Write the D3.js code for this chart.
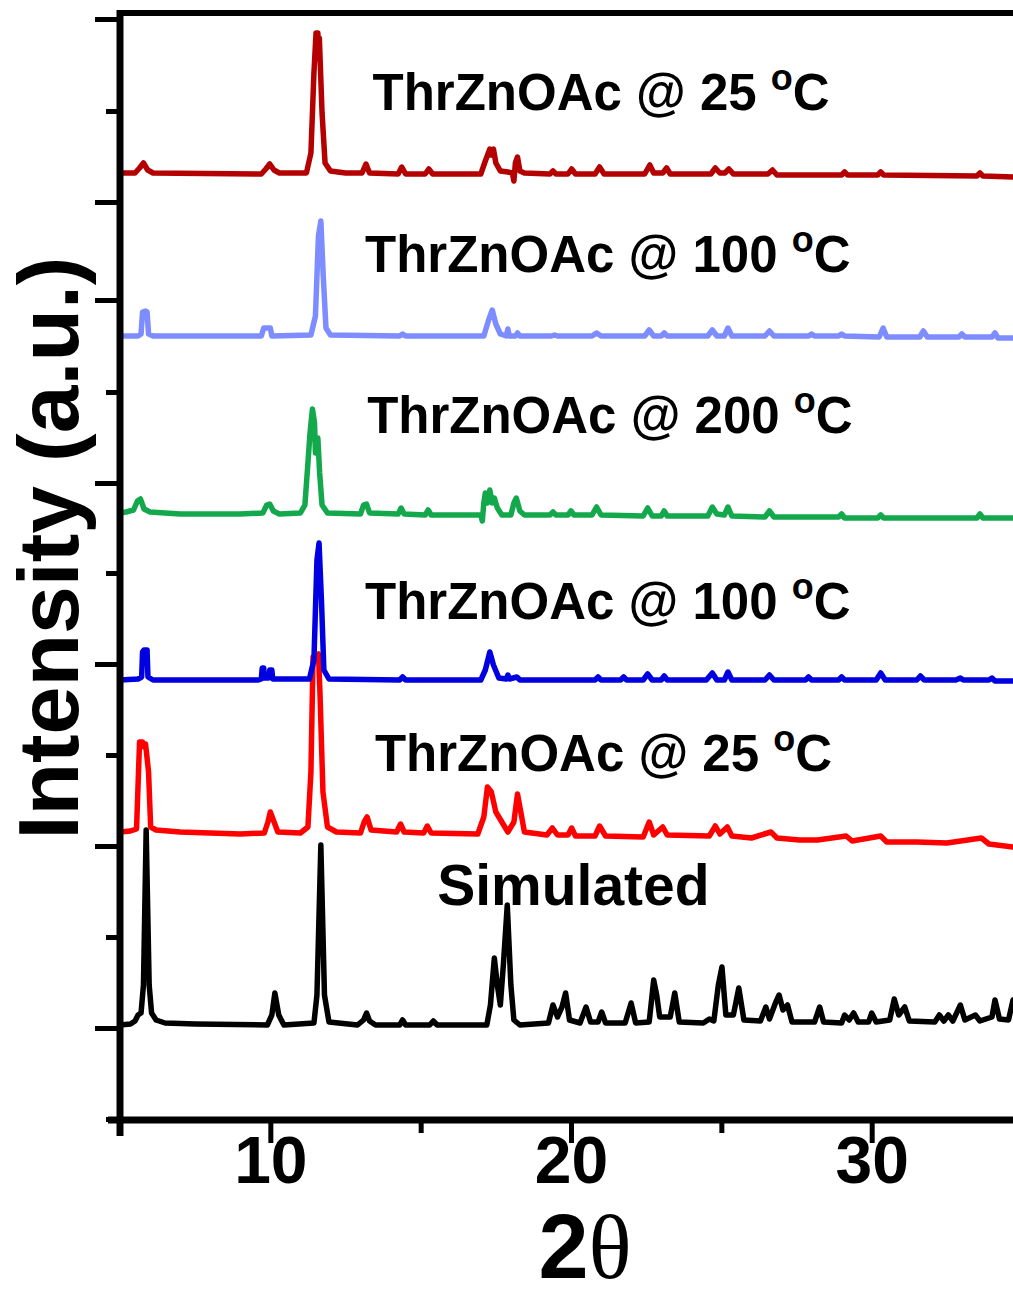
<!DOCTYPE html>
<html>
<head>
<meta charset="utf-8">
<script src="https://cdn.jsdelivr.net/npm/d3@7"></script>
<style>
    body { margin: 0; background: #ffffff; }
    #graph svg { display: block; }
</style>
</head>
<body>
<div id="graph"></div>
<script>

// The data...  2theta / intensity pairs, intensity relative to each baseline
var simulated = [
    [5.0, 0], [5.35, 1], [5.5, 4], [5.6, 10], [5.7, 12], [5.78, 40], [5.87, 195], [5.97, 40], [6.05, 12],
    [6.2, 5], [6.5, 2], [7.5, 1], [9.9, 0], [10.05, 10], [10.15, 32], [10.28, 10], [10.45, 0], [11.45, 2],
    [11.55, 30], [11.68, 180], [11.8, 30], [11.95, 3], [12.9, 0], [13.1, 5], [13.2, 12], [13.3, 4], [13.5, 0],
    [14.3, 0], [14.4, 5], [14.5, 0], [15.3, 0], [15.42, 4], [15.55, 0], [17.2, 0], [17.32, 20], [17.45, 67],
    [17.55, 40], [17.65, 20], [17.75, 60], [17.88, 120], [18.0, 40], [18.1, 5], [18.3, 0], [19.25, 2],
    [19.4, 20], [19.55, 8], [19.7, 18], [19.82, 32], [19.95, 5], [20.3, 2], [20.5, 18], [20.65, 3], [20.9, 3],
    [21.02, 13], [21.15, 2], [21.8, 2], [22.0, 22], [22.15, 2], [22.6, 3], [22.75, 45], [22.85, 30],
    [22.95, 8], [23.3, 8], [23.45, 32], [23.6, 3], [24.4, 2], [24.6, 6], [24.75, 4], [24.9, 40], [25.02, 58],
    [25.15, 10], [25.4, 10], [25.58, 37], [25.75, 5], [26.3, 4], [26.48, 18], [26.6, 6], [26.8, 22],
    [26.92, 30], [27.05, 15], [27.2, 20], [27.35, 3], [28.1, 3], [28.27, 18], [28.4, 3], [29.0, 2], [29.1, 10],
    [29.25, 5], [29.4, 12], [29.55, 3], [29.9, 3], [30.0, 12], [30.15, 3], [30.6, 5], [30.75, 26], [30.9, 10],
    [31.1, 18], [31.25, 4], [32.1, 3], [32.25, 10], [32.4, 4], [32.55, 10], [32.7, 4], [32.95, 20], [33.1, 5],
    [33.45, 10], [33.6, 4], [34.0, 8], [34.1, 25], [34.25, 6], [34.55, 5], [34.7, 25]
];

var exp25a = [
    [5.0, 0], [5.35, 1], [5.55, 3], [5.65, 90], [5.75, 90], [5.8, 85], [5.85, 88], [5.95, 60], [6.02, 5],
    [6.2, 2], [7.0, 0], [8.0, -1], [9.0, -2], [9.8, -1], [9.92, 10], [10.0, 20], [10.1, 12], [10.25, 0],
    [11.0, -1], [11.25, 5], [11.35, 60], [11.42, 175], [11.6, 178], [11.65, 140], [11.75, 40], [11.9, 5],
    [12.2, 0], [13.0, -1], [13.12, 10], [13.22, 15], [13.35, 2], [14.2, 0], [14.33, 8], [14.45, 0],
    [15.1, -1], [15.22, 6], [15.35, -1], [16.9, -2], [17.1, 15], [17.22, 45], [17.35, 40], [17.5, 20],
    [17.7, 10], [17.9, 0], [18.1, 10], [18.22, 38], [18.33, 20], [18.45, 0], [19.2, -3], [19.38, 4],
    [19.55, -3], [19.9, -3], [20.02, 4], [20.15, -4], [20.8, -4], [20.95, 6], [21.15, -4], [22.4, -5],
    [22.6, 10], [22.75, -3], [23.05, 5], [23.2, -3], [24.6, -4], [24.8, 6], [24.95, -2], [25.2, 5],
    [25.35, -4], [26.0, -6], [26.65, 0], [26.85, -6], [27.6, -8], [28.2, -8], [29.15, -4], [29.35, -9],
    [30.3, -4], [30.5, -10], [31.5, -10], [32.5, -11], [33.65, -6], [33.9, -12], [34.7, -15]
];

var exp100a = [
    [5.0, 0], [5.6, 1], [5.72, 3], [5.75, 28], [5.8, 30], [5.9, 30], [5.93, 3], [6.1, 0], [9.6, 0], [9.7, 1],
    [9.73, 12], [9.78, 12], [9.8, 2], [9.95, 2], [9.98, 10], [10.05, 10], [10.08, 1], [11.3, 1], [11.45, 20],
    [11.55, 120], [11.62, 137], [11.7, 80], [11.78, 10], [11.95, 1], [14.3, 0], [14.4, 3], [14.5, 0],
    [17.0, 0], [17.15, 10], [17.3, 28], [17.42, 15], [17.6, 2], [17.85, 1], [17.9, 5], [17.95, 1], [18.2, 3],
    [18.3, 0], [20.8, 0], [20.9, 3], [21.0, 0], [21.65, 0], [21.75, 3], [21.85, 0], [22.4, 0], [22.55, 6],
    [22.7, 0], [23.0, 0], [23.1, 4], [23.2, 0], [24.5, 0], [24.7, 7], [24.85, 0], [25.1, 0], [25.22, 8],
    [25.35, 0], [26.45, 0], [26.6, 5], [26.75, 0], [27.8, 0], [27.9, 3], [28.0, 0], [28.9, 0], [29.0, 3],
    [29.1, 0], [30.15, 0], [30.3, 7], [30.45, 0], [31.5, 0], [31.62, 4], [31.75, 0], [32.8, 0], [32.95, 2],
    [33.05, 0], [33.9, 0], [34.0, 2], [34.1, -1], [34.7, -1]
];

var exp200 = [
    [5.0, 0], [5.2, 1], [5.45, 3], [5.58, 12], [5.68, 14], [5.8, 4], [6.0, 1], [7.0, -1], [9.0, -1],
    [9.75, 0], [9.88, 8], [9.98, 9], [10.1, 2], [10.3, -1], [11.0, 0], [11.15, 8], [11.25, 50], [11.32, 80],
    [11.4, 104], [11.47, 90], [11.5, 60], [11.58, 75], [11.64, 40], [11.72, 8], [11.9, 0], [13.0, -1],
    [13.1, 8], [13.2, 9], [13.3, 0], [14.25, -1], [14.35, 5], [14.45, -1], [15.15, -2], [15.25, 3],
    [15.35, -2], [17.0, -2], [17.05, -8], [17.1, 10], [17.15, 20], [17.22, 10], [17.3, 23], [17.38, 10],
    [17.45, 15], [17.55, 5], [17.7, -2], [18.0, -2], [18.1, 10], [18.18, 15], [18.3, 2], [18.45, -2],
    [19.3, -2], [19.4, 1], [19.5, -2], [19.9, -2], [20.0, 2], [20.1, -2], [20.7, -2], [20.85, 6], [21.0, -2],
    [22.4, -3], [22.55, 5], [22.7, -3], [23.0, -3], [23.1, 2], [23.2, -3], [24.55, -3], [24.7, 6],
    [24.85, -1], [25.1, -2], [25.22, 6], [25.35, -3], [26.45, -4], [26.6, 2], [26.75, -4], [28.9, -4],
    [29.0, -1], [29.1, -5], [30.2, -5], [30.3, -2], [30.4, -5], [33.5, -5], [33.6, -1], [33.7, -5], [34.7, -5]
];

var exp100b = [
    [5.0, 0], [5.6, 0], [5.7, 2], [5.75, 24], [5.85, 25], [5.9, 24], [5.95, 2], [6.1, 0], [9.7, 0],
    [9.78, 8], [10.0, 8], [10.05, 0], [11.35, 1], [11.5, 20], [11.6, 100], [11.68, 115], [11.76, 60],
    [11.85, 8], [12.0, 1], [14.3, 0], [14.4, 2], [14.5, 0], [17.1, 0], [17.25, 15], [17.38, 26], [17.5, 12],
    [17.65, 2], [17.85, 0], [17.9, 7], [17.95, 0], [18.15, 0], [18.22, 3], [18.3, 0], [19.35, 0], [19.45, 1],
    [19.55, 0], [20.7, 0], [20.85, 3], [21.0, 0], [22.45, 0], [22.6, 6], [22.75, 0], [23.0, 0], [23.1, 3],
    [23.2, 0], [24.55, 0], [24.7, 6], [24.85, 0], [25.1, 0], [25.22, 8], [25.35, 0], [26.45, 0], [26.6, 5],
    [26.75, 0], [27.9, 0], [28.0, 2], [28.1, 0], [28.9, 0], [29.0, 2], [29.1, 0], [30.25, -1], [30.38, 8],
    [30.5, -1], [31.6, -1], [31.72, 5], [31.85, -1], [32.9, -1], [33.0, 2], [33.1, -1], [34.0, -1], [34.1, 3],
    [34.2, -2], [34.7, -2]
];

var exp25b = [
    [5.0, 0], [5.5, 0], [5.65, 5], [5.78, 10], [5.92, 3], [6.1, 0], [9.7, -1], [9.85, 4], [9.98, 9],
    [10.12, 3], [10.3, 0], [11.2, 0], [11.35, 20], [11.45, 100], [11.52, 140], [11.58, 140], [11.6, 115],
    [11.63, 135], [11.72, 60], [11.82, 10], [12.0, 2], [12.5, 0], [13.05, 0], [13.18, 9], [13.3, 0],
    [14.25, -1], [14.37, 6], [14.5, -1], [15.15, -1], [15.27, 4], [15.4, -1], [17.0, -1], [17.15, 12],
    [17.3, 24], [17.35, 18], [17.42, 24], [17.5, 10], [17.65, 2], [17.9, 1], [18.05, 0], [18.1, -8],
    [18.15, 10], [18.22, 16], [18.3, 2], [18.45, 0], [19.3, -1], [19.4, 2], [19.5, -1], [19.9, -1],
    [20.02, 4], [20.15, -1], [20.8, -1], [20.95, 6], [21.1, -1], [22.45, -1], [22.62, 8], [22.75, 0],
    [23.05, 0], [23.18, 5], [23.3, -1], [24.65, -1], [24.8, 5], [24.95, 0], [25.12, 0], [25.25, 4],
    [25.4, -1], [26.55, -1], [26.7, 3], [26.85, -2], [29.0, -2], [29.1, 1], [29.2, -2], [30.2, -2],
    [30.3, 1], [30.4, -2], [33.5, -3], [33.6, 0], [33.7, -3], [34.7, -4]
];

// stacking order, bottom to top
var patterns     = [ simulated, exp25a, exp100a, exp200, exp100b, exp25b ];
var offsets      = [ 94, 287, 439, 606, 783, 946 ];
var temperatures = [ null, '25', '100', '200', '100', '25' ];
var sampleName   = 'ThrZnOAc @ ';
var simLabel     = 'Simulated';

var xMajorTicks = [ 10, 20, 30 ];
var xMinorTicks = [ 5, 15, 25 ];
var yMajorTicks = [ 91, 273, 455, 636, 819, 917, 1100 ];
var yMinorTicks = [ 0, 182, 364, 546, 727, 1008 ];


function D3App ()
{
    var width  = 1013;
    var height = 1297;

    var colours = [ '#000000', '#ff0000', '#0000e0', '#14a84c', '#7d8cff', '#b40000' ];

    var svg = d3.select ('#graph').append ('svg')
                .attr ('width', width)
                .attr ('height', height)
                .style ('background', '#ffffff');

    var xScale = d3.scaleLinear ()
                   .domain ([ 5, 34.7 ])
                   .range ([ 120, 1013 ]);

    var yScale = d3.scaleLinear ()
                   .domain ([ 0, 1105 ])
                   .range ([ 1119, 14 ]);

    var font = '"Liberation Sans", Arial, sans-serif';

    //
    // Patterns
    //
    var plot = svg.append ('g');

    patterns.forEach (function (pts, k)
    {
        var line = d3.line ()
                     .x (function (d) { return xScale (d[0]); })
                     .y (function (d) { return yScale (offsets[k] + d[1]); });

        plot.append ('path')
            .datum (pts)
            .attr ('d', line)
            .attr ('fill', 'none')
            .attr ('stroke', colours[k])
            .attr ('stroke-width', 5.5)
            .attr ('stroke-linejoin', 'round')
            .attr ('stroke-linecap', 'round');
    });

    //
    // Labels
    //
    var labelX    = [ 15.55, 13.48, 13.15, 13.22, 13.15, 13.4 ];
    var labelY    = [ 905, 771, 619, 433, 272, 110 ];
    var labelSize = [ 57, 51, 51, 51, 51, 51 ];

    for (var i = 0; i < patterns.length; i++)
    {
        var t = svg.append ('text')
                   .attr ('x', xScale (labelX[i]))
                   .attr ('y', labelY[i])
                   .attr ('font-family', font)
                   .attr ('font-weight', 'bold')
                   .attr ('font-size', labelSize[i] + 'px')
                   .attr ('fill', '#000000');

        if (temperatures[i] == null)
        {
            t.text (simLabel);
            continue;
        }

        t.append ('tspan').text (sampleName + temperatures[i] + ' ');
        t.append ('tspan')
         .attr ('font-size', '36px')
         .attr ('dy', -20)
         .text ('o');
        t.append ('tspan')
         .attr ('dy', 20)
         .text ('C');
    }

    //
    // Axes
    //
    var xAxisMajor = d3.axisBottom (xScale)
                       .tickValues (xMajorTicks)
                       .tickSize (23)
                       .tickSizeOuter (0)
                       .tickFormat (d3.format ('d'));

    var xAxisMinor = d3.axisBottom (xScale)
                       .tickValues (xMinorTicks)
                       .tickSize (13)
                       .tickSizeOuter (0)
                       .tickFormat ('');

    var yAxisMajor = d3.axisLeft (yScale)
                       .tickValues (yMajorTicks)
                       .tickSize (25)
                       .tickSizeOuter (0)
                       .tickFormat ('');

    var yAxisMinor = d3.axisLeft (yScale)
                       .tickValues (yMinorTicks)
                       .tickSize (14)
                       .tickSizeOuter (0)
                       .tickFormat ('');

    var gx1 = svg.append ('g').attr ('transform', 'translate(0,1120)').call (xAxisMajor);
    var gx2 = svg.append ('g').attr ('transform', 'translate(0,1120)').call (xAxisMinor);
    var gy1 = svg.append ('g').attr ('transform', 'translate(120,0)').call (yAxisMajor);
    var gy2 = svg.append ('g').attr ('transform', 'translate(120,0)').call (yAxisMinor);

    [ gx1, gx2, gy1, gy2 ].forEach (function (g)
    {
        g.select ('.domain').remove ();
        g.selectAll ('.tick line')
         .attr ('stroke', '#000000')
         .attr ('stroke-width', 5);
    });

    gx1.selectAll ('.tick text')
       .attr ('y', 63)
       .attr ('dy', 0)
       .attr ('fill', '#000000')
       .attr ('font-family', '"Liberation Sans Narrow", "Liberation Sans", Arial, sans-serif')
       .attr ('font-weight', 'bold')
       .attr ('font-size', '66px');

    // axis frame lines
    svg.append ('line')
       .attr ('x1', 108).attr ('x2', width)
       .attr ('y1', 1120).attr ('y2', 1120)
       .attr ('stroke', '#000000').attr ('stroke-width', 7);

    svg.append ('line')
       .attr ('x1', 120).attr ('x2', 120)
       .attr ('y1', 10).attr ('y2', 1136)
       .attr ('stroke', '#000000').attr ('stroke-width', 7);

    svg.append ('line')
       .attr ('x1', 117).attr ('x2', width)
       .attr ('y1', 13).attr ('y2', 13)
       .attr ('stroke', '#000000').attr ('stroke-width', 6);

    //
    // Axis titles
    //
    svg.append ('text')
       .attr ('transform', 'translate(78,548) rotate(-90)')
       .attr ('text-anchor', 'middle')
       .attr ('font-family', font)
       .attr ('font-weight', 'bold')
       .attr ('font-size', '86px')
       .attr ('fill', '#000000')
       .text ('Intensity (a.u.)');

    var xt = svg.append ('text')
                .attr ('x', 585)
                .attr ('y', 1278)
                .attr ('text-anchor', 'middle')
                .attr ('font-size', '90px')
                .attr ('fill', '#000000');

    xt.append ('tspan')
      .attr ('font-family', font)
      .attr ('font-weight', 'bold')
      .text ('2');
    xt.append ('tspan')
      .attr ('font-family', '"Liberation Serif", "Times New Roman", serif')
      .text ('\u03b8');

} // D3App

D3App ();

</script>
</body>
</html>
